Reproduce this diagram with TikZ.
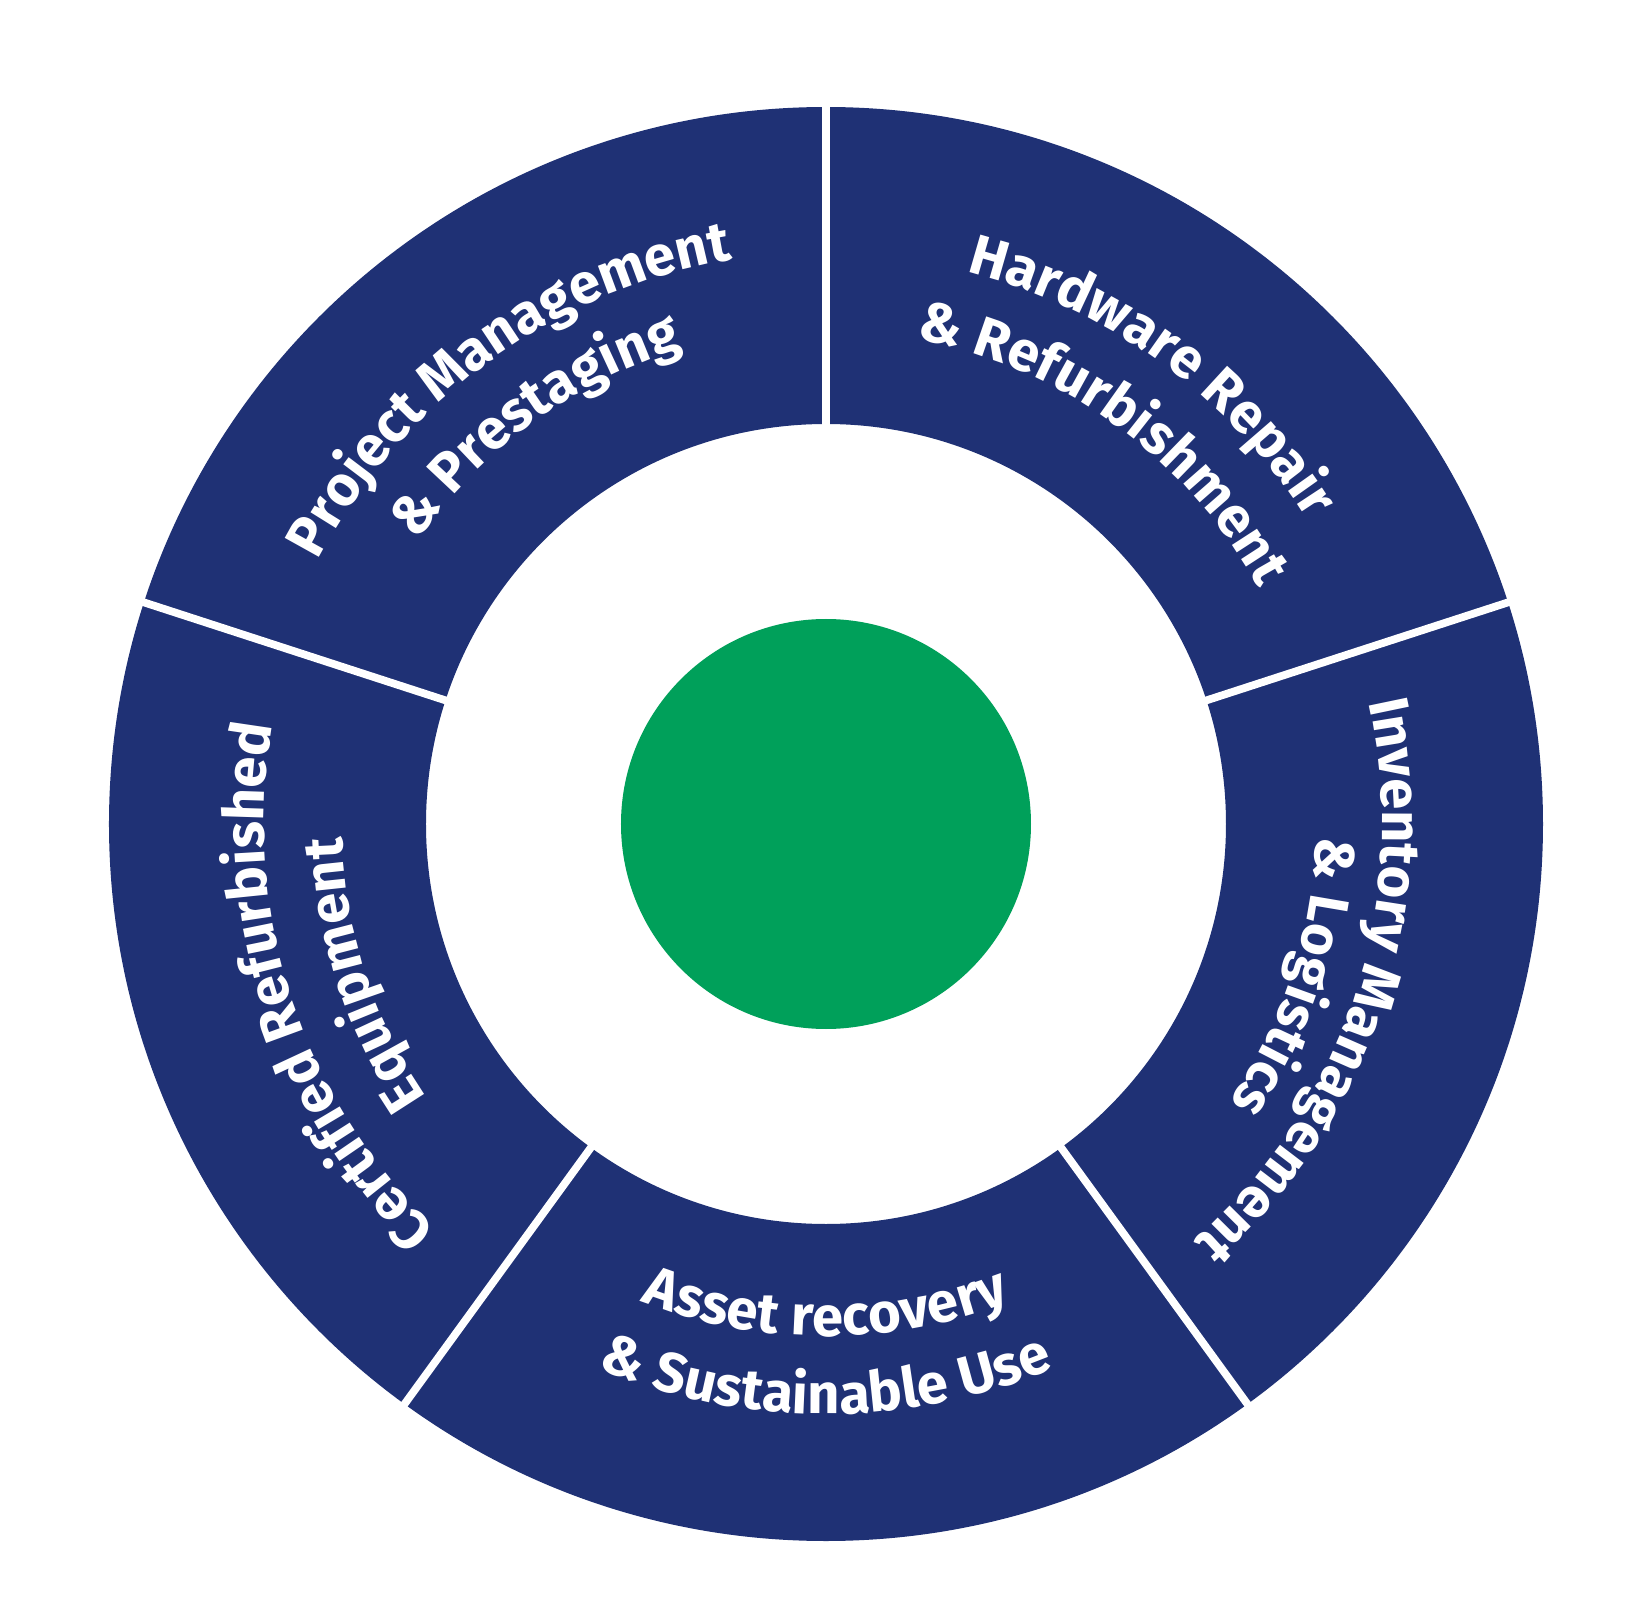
\documentclass[tikz,border=0pt]{standalone}
\usepackage{fontspec}
\setmainfont{Fira Sans}
\usetikzlibrary{decorations.text}
\definecolor{navy}{HTML}{1F3175}
\definecolor{grn}{HTML}{00A05A}
\newcommand\myamp{\&}
\tikzset{
  lbl/.style={decorate, decoration={text along path, text align=center, text color=white,
     text={|\fontsize{16}{19}\selectfont\bfseries|#1}}},
  sep/.style={draw=white, line width=2.2pt}
}
\newcommand\cwtext[3]{% angle, radius, text (clockwise)
  \path[lbl={#3}] ({#1+46}:#2) arc[start angle={#1+46}, end angle={#1-46}, radius=#2];}
\newcommand\ccwtext[3]{%
  \path[lbl={#3}] ({#1-46}:#2) arc[start angle={#1-46}, end angle={#1+46}, radius=#2];}
\begin{document}
\begin{tikzpicture}[x=0.01cm,y=0.01cm]
\useasboundingbox (-826,-800) rectangle (816,824);
\fill[white] (-826,-800) rectangle (816,824);
\fill[navy, even odd rule] (0,0) circle[radius=717] (0,0) circle[radius=400];
\fill[grn] (0,0) circle[radius=205];
\foreach \a in {90,18,-54,-126,162}
  \draw[sep] (\a:398) -- (\a:722);
\cwtext{54}{570}{Hardware Repair}
\cwtext{54}{493}{{\myamp} Refurbishment}
\cwtext{126}{572}{Project Management}
\cwtext{126}{497}{{\myamp} Prestaging}
\cwtext{198}{562}{Certified Refurbished}
\cwtext{198}{484}{Equipment}
\cwtext{342}{556}{Inventory Management}
\cwtext{342}{490}{{\myamp} Logistics}
\ccwtext{270}{512}{Asset recovery}
\ccwtext{270}{590}{{\myamp} Sustainable Use}
\end{tikzpicture}
\end{document}
